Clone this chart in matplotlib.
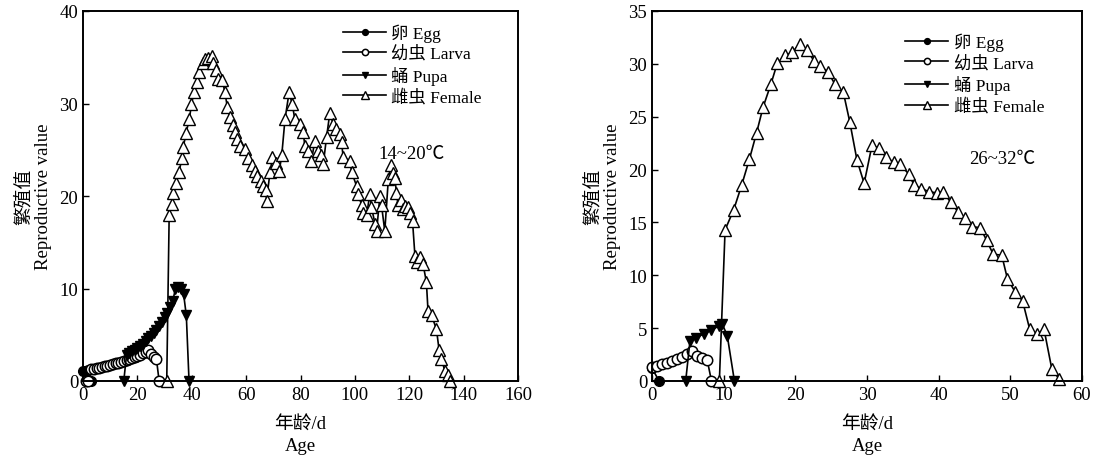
import matplotlib
matplotlib.use("Agg")
import matplotlib.pyplot as plt

plt.rcParams["font.family"] = ["Liberation Serif", "Noto Sans CJK SC", "DejaVu Sans"]

# ---- 14~20 C panel ----
egg_x_a = [0, 1, 2, 3]
egg_y_a = [1.05, 1.1, 1.15, 0]
larva_x_a = [1, 2, 3, 4, 5, 6, 7, 8, 9, 10, 11, 12, 13, 14, 15, 16, 17, 18, 19, 20,
             21, 22, 23, 24, 25, 26, 27, 28]
larva_y_a = [0, 0, 1.25, 1.3, 1.4, 1.45, 1.5, 1.6, 1.65, 1.75, 1.85, 1.9, 2.0, 2.1, 2.2,
             2.3, 2.4, 2.5, 2.6, 2.75, 2.85, 3.0, 3.1, 3.3, 2.9, 2.6, 2.4, 0]
pupa_x_a = [15, 16, 17, 18, 19, 20, 21, 22, 23, 24, 25, 26, 27, 28, 29, 30, 31, 32,
            33, 34, 35, 36, 37, 38, 39]
pupa_y_a = [0, 2.8, 3.0, 3.2, 3.4, 3.6, 3.8, 4.0, 4.3, 4.6, 4.9, 5.2, 5.5, 5.9, 6.4, 6.9,
            7.4, 8.0, 8.6, 10.0, 10.2, 9.9, 9.4, 7.1, 0]
fem_x_a = [30.8, 31.7, 32.6, 33.2, 34.2, 35.4, 36.3, 36.9, 37.9, 39.1, 39.9, 40.8, 41.8,
           42.8, 44.0, 44.9, 46.1, 47.3, 47.9, 48.9, 49.7, 51.3, 52.2, 53.1, 54.0, 55.0,
           55.9, 56.8, 57.9, 59.6, 60.8, 62.0, 63.2, 64.1, 65.3, 66.3, 67.3, 67.5, 68.8,
           69.7, 71.0, 72.2, 73.1, 74.3, 75.8, 77.0, 77.9, 79.8, 81.0, 81.6, 82.8, 84.0,
           85.3, 86.5, 87.7, 88.4, 89.6, 90.8, 92.0, 93.2, 94.5, 95.1, 95.7, 98.2, 98.8,
           100.6, 101.2, 102.5, 103.1, 104.3, 105.5, 106.1, 107.4, 108.0, 109.2, 109.8,
           111.0, 112.3, 113.2, 113.9, 114.7, 115.3, 115.9, 116.8, 117.8, 118.6, 119.6,
           120.4, 121.2, 122.1, 122.9, 123.9, 125.1, 126.3, 126.9, 128.2, 130.0, 131.0,
           131.8, 133.1, 134.3, 135.1]
fem_y_a = [0, 18.0, 19.1, 20.3, 21.4, 22.6, 24.1, 25.3, 26.8, 28.3, 29.9, 31.2, 32.3,
           33.4, 34.4, 34.8, 34.9, 35.1, 34.4, 33.6, 32.6, 32.5, 31.2, 29.6, 28.5, 27.7,
           26.9, 26.2, 25.4, 25.1, 24.1, 23.3, 22.7, 22.2, 21.6, 21.1, 20.6, 19.5, 22.6,
           24.2, 23.6, 22.7, 24.4, 28.3, 31.2, 29.9, 28.3, 27.8, 26.9, 25.4, 24.9, 23.8,
           26.0, 24.9, 24.4, 23.5, 26.4, 29.0, 27.8, 27.2, 26.7, 25.8, 24.2, 23.8, 22.6,
           21.1, 20.2, 19.0, 18.2, 17.9, 20.2, 18.8, 17.0, 16.2, 20.0, 19.0,
           16.2, 21.8, 23.4, 22.5, 22.0, 20.3, 19.0, 19.6, 18.6, 18.9, 18.8,
           18.2, 17.3, 13.5, 12.9, 13.4, 12.6, 10.7, 7.6, 7.1, 5.6, 3.3,
           2.4, 1.1, 0.6, 0.0]

# ---- 26~32 C panel ----
egg_x_b = [0, 1]
egg_y_b = [1.2, 0]
larva_x_b = [0, 0.7, 1.4, 2.1, 2.8, 3.5, 4.2, 4.9, 5.6, 6.3, 7.0, 7.7, 8.3]
larva_y_b = [1.3, 1.45, 1.6, 1.75, 1.9, 2.05, 2.25, 2.55, 2.85, 2.4, 2.15, 2.0, 0]
pupa_x_b = [4.7, 5.3, 6.2, 7.2, 8.3, 9.3, 9.8, 10.5, 11.5]
pupa_y_b = [0, 3.8, 4.1, 4.45, 4.8, 5.2, 5.4, 4.3, 0]
fem_x_b = [9.4, 10.2, 11.4, 12.5, 13.6, 14.6, 15.5, 16.6, 17.5, 18.6, 19.6, 20.6, 21.6,
           22.6, 23.5, 24.6, 25.5, 26.7, 27.6, 28.6, 29.6, 30.7, 31.7, 32.6, 33.7, 34.6,
           35.8, 36.6, 37.6, 38.7, 39.7, 40.6, 41.7, 42.7, 43.7, 44.7, 45.8, 46.7, 47.6,
           48.8, 49.6, 50.7, 51.7, 52.7, 53.7, 54.7, 55.8, 56.8]
fem_y_b = [0, 14.3, 16.2, 18.5, 21.0, 23.5, 25.9, 28.1, 30.1, 30.8, 31.1, 31.9, 31.3,
           30.3, 29.8, 29.2, 28.1, 27.3, 24.5, 20.9, 18.7, 22.3, 22.0, 21.2, 20.7, 20.5,
           19.6, 18.5, 18.2, 17.9, 17.8, 17.9, 16.9, 16.0, 15.4, 14.6, 14.5, 13.3, 12.0,
           11.9, 9.65, 8.4, 7.6, 4.9, 4.4, 4.9, 1.1, 0.2]

stage_names = ["卵 Egg", "幼虫 Larva", "蛹 Pupa", "雌虫 Female"]

fig = plt.figure(figsize=(11, 4.6), dpi=100)
ax1 = fig.add_axes([83 / 1100, 78 / 460, 435 / 1100, 370 / 460])
ax2 = fig.add_axes([652 / 1100, 78 / 460, 430 / 1100, 370 / 460])


def draw(ax, data, temp, temp_xy, leg_anchor):
    styles = [
        dict(marker="o", ms=7, mfc="black", mec="black"),
        dict(marker="o", ms=7.5, mfc="white", mec="black", mew=1.1),
        dict(marker="v", ms=7.5, mfc="black", mec="black"),
        dict(marker="^", ms=8.5, mfc="white", mec="black", mew=1.0),
    ]
    for (xs, ys), st, name in zip(data, styles, stage_names):
        ax.plot(xs, ys, color="black", lw=1.2, label=name, clip_on=False, **st)
    ax.legend(loc="upper right", bbox_to_anchor=leg_anchor, frameon=False,
              fontsize=12.5, handlelength=2.5, handletextpad=0.3,
              labelspacing=0.22, markerscale=0.6, borderaxespad=0.3)
    ax.text(temp_xy[0], temp_xy[1], temp, transform=ax.transAxes, fontsize=13.5,
            ha="center", va="center")
    ax.set_xlabel("年龄/d\nAge", fontsize=13.5, linespacing=1.35, labelpad=9)
    ax.set_ylabel("繁殖值\nReproductive value", fontsize=13.5, linespacing=1.2, labelpad=5)
    ax.tick_params(direction="in", length=4, width=1, labelsize=13.5, top=False, right=False)
    for sp in ax.spines.values():
        sp.set_linewidth(1.4)


draw(ax1, [(egg_x_a, egg_y_a), (larva_x_a, larva_y_a), (pupa_x_a, pupa_y_a),
           (fem_x_a, fem_y_a)], "14~20℃", (0.755, 0.615), (0.945, 1.0))
ax1.set_xlim(0, 160)
ax1.set_ylim(0, 40)
ax1.set_xticks(range(0, 161, 20))
ax1.set_yticks(range(0, 41, 10))

draw(ax2, [(egg_x_b, egg_y_b), (larva_x_b, larva_y_b), (pupa_x_b, pupa_y_b),
           (fem_x_b, fem_y_b)], "26~32℃", (0.815, 0.6), (0.94, 0.975))
ax2.set_xlim(0, 60)
ax2.set_ylim(0, 35)
ax2.set_xticks(range(0, 61, 10))
ax2.set_yticks(range(0, 36, 5))

fig.savefig("out.png", dpi=100)
